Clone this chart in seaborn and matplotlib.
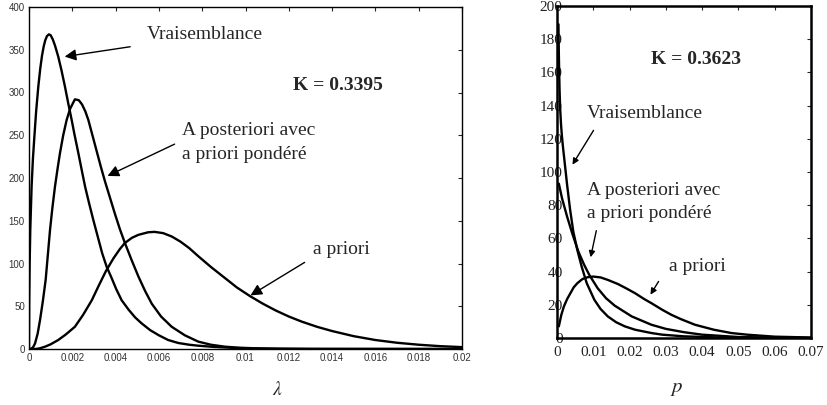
import numpy as np
import pandas as pd
import seaborn as sns
import matplotlib
matplotlib.use("Agg")
import matplotlib.pyplot as plt
from matplotlib.ticker import FuncFormatter

# left panel: lambda
lam_vrais = [0, 0.00001, 0.00003, 0.00006, 0.00012, 0.00018, 0.00025, 0.00033, 0.00043,
             0.00052, 0.0006, 0.00068, 0.00075, 0.00083, 0.00092, 0.001, 0.0011, 0.0012,
             0.00135, 0.0015, 0.00166, 0.0018, 0.00197, 0.0021, 0.00228, 0.00243, 0.00259,
             0.00278, 0.00297, 0.00318, 0.00338, 0.00359, 0.0038, 0.00403, 0.00428, 0.0046,
             0.0049, 0.0052, 0.0056, 0.006, 0.00643, 0.0069, 0.0074, 0.0078, 0.0085,
             0.0095, 0.011, 0.012, 0.014, 0.02]
dens_vrais = [0, 55, 100, 140, 190, 222, 249, 278, 307,
              328, 343, 354, 361, 366, 368, 367, 362, 355,
              342, 326, 307, 289, 268, 251, 229, 210, 190,
              170, 151, 131, 112, 96, 84, 70, 57, 46,
              37, 30, 22, 16, 10.5, 7, 5, 3.9, 2.5,
              1.2, 0.3, 0.15, 0.05, 0]

lam_post = [0, 0.00006, 0.00012, 0.0002, 0.00028, 0.0004, 0.00051, 0.00064, 0.00077,
            0.00087, 0.00097, 0.00108, 0.0012, 0.00132, 0.00143, 0.00158, 0.00174, 0.0019,
            0.00212, 0.0023, 0.00245, 0.0026, 0.00274, 0.00293, 0.00313, 0.00332, 0.00351,
            0.00374, 0.00397, 0.0042, 0.00443, 0.00474, 0.00505, 0.00536, 0.00567, 0.0061,
            0.00659, 0.0072, 0.00782, 0.0084, 0.00905, 0.0097, 0.0105, 0.0115, 0.013, 0.02]
dens_post = [0, 0, 0.5, 2.5, 6.6, 18, 34, 56, 81,
             110, 139, 165, 190, 211, 229, 250, 268, 281,
             292, 291, 286, 278, 268, 250, 231, 213, 196,
             177, 158, 140, 124, 104, 85, 68, 53, 38,
             26, 16, 8.6, 5, 2.7, 1.5, 0.8, 0.4, 0.1, 0]

lam_prior = [0, 0.0003, 0.0005, 0.00074, 0.001, 0.00135, 0.0017, 0.00212, 0.0025,
             0.0029, 0.0032, 0.00355, 0.0039, 0.0042, 0.00443, 0.00475, 0.00505, 0.0055,
             0.0058, 0.0062, 0.0066, 0.007, 0.0074, 0.00782, 0.0084, 0.00905, 0.0096,
             0.0102, 0.0108, 0.0114, 0.012, 0.0126, 0.0133, 0.014, 0.015, 0.016, 0.017,
             0.018, 0.019, 0.02]
dens_prior = [0, 0, 0.8, 2.7, 5.5, 10.5, 17, 26, 40,
              57, 73, 91, 106, 117, 124, 130, 133.5, 136.5,
              137, 135.5, 131.5, 125.5, 118, 108.5, 96, 83, 72,
              62, 53, 45, 38, 32, 26, 21, 15, 10.5, 7.3,
              5, 3.3, 2.2]

# right panel: p
p_vrais = [0.0004, 0.0005, 0.0006, 0.0007, 0.0008, 0.0009, 0.0011, 0.0013, 0.0016,
           0.0019, 0.0028, 0.0036, 0.0045, 0.0056, 0.0068, 0.0082, 0.0103, 0.012,
           0.014, 0.0163, 0.0187, 0.0215, 0.026, 0.029, 0.035, 0.045, 0.06, 0.07]
densp_vrais = [189, 172, 160, 150, 143, 137, 129, 123, 116,
               110, 92, 77.5, 64, 53, 43, 33, 23, 17.5,
               13, 9.5, 7, 5, 3, 2, 1, 0.3, 0.05, 0]

p_post = [0.0005, 0.0014, 0.0028, 0.0042, 0.0059, 0.0075, 0.0089, 0.0112, 0.0135,
          0.0159, 0.0206, 0.026, 0.03, 0.035, 0.04, 0.05, 0.06, 0.07]
densp_post = [93, 84, 73, 63, 52, 44, 38, 30, 24,
              19.5, 13, 8, 5.5, 3.5, 2, 0.6, 0.2, 0]

p_prior = [0.0005, 0.0012, 0.0019, 0.0028, 0.0037, 0.0046, 0.0056, 0.007, 0.0084,
           0.01, 0.012, 0.014, 0.0168, 0.019, 0.0215, 0.024, 0.026, 0.029, 0.0315,
           0.034, 0.038, 0.0432, 0.048, 0.0524, 0.06, 0.07]
densp_prior = [7, 14, 19, 23.5, 27, 30.5, 33, 35.5, 36.6,
               37, 36.5, 35, 32.5, 30, 27, 23.5, 21, 17, 14,
               11.5, 8, 5, 3, 2, 0.8, 0.3]

lam_ticks = [0, 0.002, 0.004, 0.006, 0.008, 0.01, 0.012, 0.014, 0.016, 0.018, 0.02]
p_ticks = [0, 0.01, 0.02, 0.03, 0.04, 0.05, 0.06, 0.07]

sns.set_style("white")
plt.rcParams['font.family'] = ['Liberation Serif', 'DejaVu Serif']
plt.rcParams['mathtext.fontset'] = 'stix'

fig = plt.figure(figsize=(8.27, 4.05), dpi=100)
ax1 = fig.add_axes([29/827, 1-349/405, 433/827, 342/405])
ax2 = fig.add_axes([557/827, 1-338/405, 254/827, 332/405])

for x, y in [(lam_vrais, dens_vrais), (lam_post, dens_post), (lam_prior, dens_prior)]:
    sns.lineplot(x=x, y=y, ax=ax1, color='black', lw=1.7, estimator=None, sort=False)
for x, y in [(p_vrais, densp_vrais), (p_post, densp_post), (p_prior, densp_prior)]:
    sns.lineplot(x=x, y=y, ax=ax2, color='black', lw=1.7, estimator=None, sort=False)

fmt = FuncFormatter(lambda v, pos: '%g' % v)

# left axes look
ax1.set_xlim(0, 0.02)
ax1.set_ylim(0, 400)
ax1.set_xticks(lam_ticks)
ax1.set_yticks(range(0, 401, 50))
ax1.xaxis.set_major_formatter(fmt)
ax1.tick_params(direction='in', length=3, width=0.8, top=True, right=True,
                labelsize=7, labelcolor='#333333', pad=3)
for lab in ax1.get_xticklabels() + ax1.get_yticklabels():
    lab.set_family('Liberation Sans')
for s in ax1.spines.values():
    s.set_linewidth(1.0)
    s.set_color('black')

# right axes look
ax2.set_xlim(0, 0.07)
ax2.set_ylim(0, 200)
ax2.set_xticks(p_ticks)
ax2.set_yticks(range(0, 201, 20))
ax2.xaxis.set_major_formatter(fmt)
ax2.tick_params(direction='in', length=3, width=0.8, top=True, right=True,
                labelsize=11, labelcolor='#222222')
ax2.tick_params(axis='y', pad=-4)
ax2.tick_params(axis='x', pad=6)
for s in ax2.spines.values():
    s.set_linewidth(1.8)
    s.set_color('black')

ax1.set_xlabel('')
ax1.set_ylabel('')
ax2.set_xlabel('')
ax2.set_ylabel('')

arr_big = dict(arrowstyle='-|>', color='black', lw=1.0, mutation_scale=17)
arr_small = dict(arrowstyle='-|>', color='black', lw=1.0, mutation_scale=9)
tsize = 14

# left annotations
ax1.text(0.00545, 368, 'Vraisemblance', fontsize=tsize, va='center', ha='left')
ax1.annotate('', xy=(0.00152, 341.5), xytext=(0.0048, 354), arrowprops=arr_big)
ax1.text(0.0122, 308, 'K = 0.3395', fontsize=tsize, fontweight='bold', va='center')
ax1.text(0.00707, 255, 'A posteriori avec', fontsize=tsize, va='center')
ax1.text(0.00707, 227, 'a priori pondéré', fontsize=tsize, va='center')
ax1.annotate('', xy=(0.00351, 201), xytext=(0.00684, 241), arrowprops=arr_big)
ax1.text(0.01312, 116, 'a priori', fontsize=tsize, va='center')
ax1.annotate('', xy=(0.01012, 61), xytext=(0.01284, 103), arrowprops=arr_big)

# right annotations
ax2.text(0.0259, 167.5, 'K = 0.3623', fontsize=tsize, fontweight='bold', va='center')
ax2.text(0.00827, 135.5, 'Vraisemblance', fontsize=tsize, va='center')
ax2.annotate('', xy=(0.00386, 103), xytext=(0.01047, 126.5), arrowprops=arr_small)
ax2.text(0.00827, 89, 'A posteriori avec', fontsize=tsize, va='center')
ax2.text(0.00827, 75.3, 'a priori pondéré', fontsize=tsize, va='center')
ax2.annotate('', xy=(0.0091, 47), xytext=(0.011, 66.3), arrowprops=arr_small)
ax2.text(0.0309, 42.8, 'a priori', fontsize=tsize, va='center')
ax2.annotate('', xy=(0.02535, 24.7), xytext=(0.0284, 35.5), arrowprops=arr_small)

fig.text(277/827, 1-390/405, r'$\lambda$', fontsize=14, ha='center', va='center')
fig.text(677/827, 1-388/405, r'$p$', fontsize=15, ha='center', va='center')

fig.savefig('out.png', dpi=100)
